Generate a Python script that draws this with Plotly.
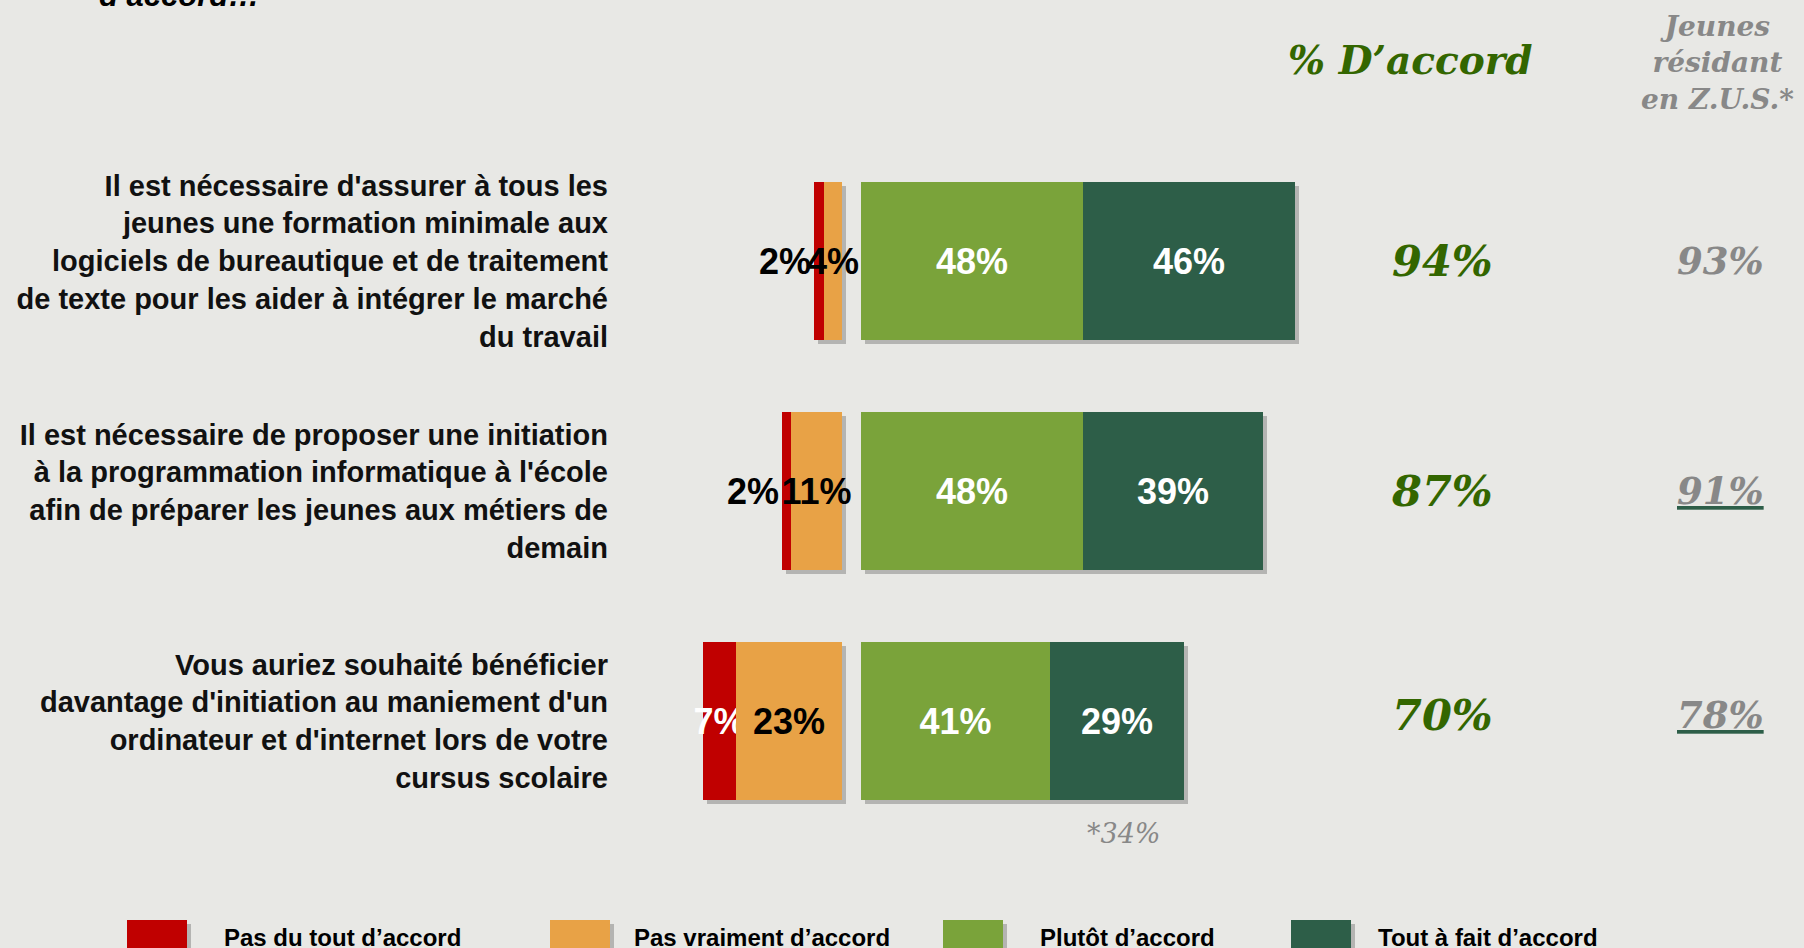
import plotly.graph_objects as go

# --- data ---
questions = [
    "Il est nécessaire d'assurer à tous les<br>jeunes une formation minimale aux<br>logiciels de bureautique et de traitement<br>de texte pour les aider à intégrer le marché<br>du travail",
    "Il est nécessaire de proposer une initiation<br>à la programmation informatique à l'école<br>afin de préparer les jeunes aux métiers de<br>demain",
    "Vous auriez souhaité bénéficier<br>davantage d'initiation au maniement d'un<br>ordinateur et d'internet lors de votre<br>cursus scolaire",
]
pas_du_tout = [2, 2, 7]
pas_vraiment = [4, 11, 23]
plutot = [48, 48, 41]
tout_a_fait = [46, 39, 29]
total_accord = [94, 87, 70]
zus_accord = [93, 91, 78]
zus_underline = [False, True, True]
zus_note = 34  # "*34%" under the last question

legend_labels = ["Pas du tout d’accord", "Pas vraiment d’accord", "Plutôt d’accord", "Tout à fait d’accord"]

# --- styles / layout constants (pixels) ---
W, H = 1804, 948
SH = 4                     # shadow offset
PX_PER_PCT = 4.625
X_ZERO = 851.3             # pixel of value 0 (middle of the gap)
GAP = 2                    # half gap between disagree / agree, in %
ROW0 = 261                 # pixel of first row centre
ROW_STEP = 230
BAR_W = 158 / ROW_STEP

RED, ORANGE, LGREEN, DGREEN = "#c00000", "#e8a246", "#7aa33a", "#2d5e48"
SHADOW = "rgba(60,60,60,0.30)"
BG = "#e8e8e5"
SANS = "Liberation Sans, Arial, sans-serif"
SERIF = "Georgia, DejaVu Serif, serif"

rows = list(range(len(questions)))

x_range = [-X_ZERO / PX_PER_PCT, (W - SH - X_ZERO) / PX_PER_PCT]
y_top = -ROW0 / ROW_STEP
y_range = [y_top + (H - SH) / ROW_STEP, y_top]

# segments: (values, bases, colour, text positions, inside colour, outside colour, sign)
neg_orange_base = [-GAP] * len(rows)
neg_red_base = [-GAP - v for v in pas_vraiment]
pos_light_base = [GAP] * len(rows)
pos_dark_base = [GAP + v for v in plutot]

segments = [
    (pas_du_tout, neg_red_base, RED, ["outside", "outside", "inside"], "white", "black", -1),
    (pas_vraiment, neg_orange_base, ORANGE, ["inside"] * 3, "black", "black", -1),
    (plutot, pos_light_base, LGREEN, ["inside"] * 3, "white", "white", 1),
    (tout_a_fait, pos_dark_base, DGREEN, ["inside"] * 3, "white", "white", 1),
]

fig = go.Figure()

# shadows first (lower subplot, shifted a few pixels right/down)
for vals, base, col, tpos, inc, outc, sign in segments:
    fig.add_trace(go.Bar(
        y=rows, x=[sign * v for v in vals], base=base, orientation="h",
        width=BAR_W, marker=dict(color=SHADOW, line=dict(width=0)),
        xaxis="x", yaxis="y", hoverinfo="skip", showlegend=False,
    ))

for (vals, base, col, tpos, inc, outc, sign), name in zip(segments, legend_labels):
    fig.add_trace(go.Bar(
        y=rows, x=[sign * v for v in vals], base=base, orientation="h",
        width=BAR_W, marker=dict(color=col, line=dict(width=0)),
        text=[f"{v}%" for v in vals], textposition=tpos, textangle=0,
        constraintext="none", insidetextanchor="middle",
        insidetextfont=dict(family=SANS, size=36, color=inc, weight="bold"),
        outsidetextfont=dict(family=SANS, size=36, color=outc, weight="bold"),
        cliponaxis=False,
        xaxis="x2", yaxis="y2", name=name, showlegend=False,
    ))

annotations = []

# % D'accord column
for i, v in enumerate(total_accord):
    annotations.append(dict(
        x=1442 / W, xref="paper", y=i, yref="y2", yshift=(6 if i == 2 else 0),
        text=f"{v}%", showarrow=False, xanchor="center", yanchor="middle",
        font=dict(family=SERIF, size=43, color="#336600", weight="bold", style="italic"),
    ))

# ZUS column
for i, (v, u) in enumerate(zip(zus_accord, zus_underline)):
    txt = f"{v}%"
    if u:
        txt = (f"<span style='fill:{DGREEN};color:{DGREEN};text-decoration:underline'>"
               f"<span style='color:#888888'>{txt}</span></span>")
    annotations.append(dict(
        x=1720 / W, xref="paper", y=i, yref="y2", yshift=(6 if i == 2 else 0),
        text=txt, showarrow=False, xanchor="center", yanchor="middle",
        font=dict(family=SERIF, size=37, color="#888888", weight="bold", style="italic"),
    ))

annotations += [
    dict(x=1410 / W, y=1 - 60 / H, xref="paper", yref="paper", text="% D’accord",
         showarrow=False, xanchor="center", yanchor="middle",
         font=dict(family=SERIF, size=39, color="#336600", weight="bold", style="italic")),
    dict(x=1717 / W, y=1 - 8 / H, xref="paper", yref="paper", text="Jeunes<br>résidant<br>en Z.U.S.*",
         showarrow=False, xanchor="center", yanchor="top",
         font=dict(family=SERIF, size=28, color="#888888", weight="bold", style="italic")),
    dict(x=1124 / W, y=1 - 833 / H, xref="paper", yref="paper", text=f"*{zus_note}%",
         showarrow=False, xanchor="center", yanchor="middle",
         font=dict(family=SERIF, size=27, color="#888888", style="italic")),
    # cut-off title fragment at the very top
    dict(x=97 / W, y=1, xref="paper", yref="paper", yshift=-15, text="d’accord…",
         showarrow=False, xanchor="left", yanchor="bottom",
         font=dict(family=SANS, size=31, color="black", weight="bold", style="italic")),
]

# legend (big squares with shadow, bottom edge cut)
shapes = []
sq_left = [127, 550, 943, 1291]
txt_left = [222, 632, 1038, 1376]
for lab, col, sx, tx in zip(legend_labels, [RED, ORANGE, LGREEN, DGREEN], sq_left, txt_left):
    shapes.append(dict(type="rect", xref="paper", yref="paper", layer="below",
                       x0=(sx + SH) / W, x1=(sx + 60 + SH) / W, y0=-0.1, y1=1 - (920 + SH) / H,
                       fillcolor=SHADOW, line=dict(width=0)))
    shapes.append(dict(type="rect", xref="paper", yref="paper", layer="below",
                       x0=sx / W, x1=(sx + 60) / W, y0=-0.1, y1=1 - 920 / H,
                       fillcolor=col, line=dict(width=0)))
    annotations.append(dict(x=tx / W, y=1 - 937 / H, xref="paper", yref="paper", text=lab,
                            showarrow=False, xanchor="left", yanchor="middle",
                            font=dict(family=SANS, size=24, color="black", weight="bold")))

fig.update_layout(
    width=W, height=H,
    margin=dict(l=0, r=0, t=0, b=0),
    paper_bgcolor=BG, plot_bgcolor="rgba(0,0,0,0)",
    barmode="overlay", bargap=0,
    showlegend=False,
    xaxis=dict(domain=[SH / W, 1], range=x_range, visible=False, fixedrange=True),
    yaxis=dict(domain=[0, 1 - SH / H], range=y_range, visible=False, fixedrange=True),
    xaxis2=dict(domain=[0, 1 - SH / W], range=x_range, visible=False, anchor="y2", fixedrange=True),
    yaxis2=dict(domain=[SH / H, 1], range=y_range, anchor="free", position=608 / W,
                tickvals=rows, ticktext=questions, ticks="", showgrid=False,
                zeroline=False, showline=False, fixedrange=True,
                tickfont=dict(family=SANS, size=29, color="#111111", weight="bold")),
    annotations=annotations,
    shapes=shapes,
)

fig.write_html("out.html", config={"displayModeBar": False},
               post_script="document.body.style.margin='0';document.body.style.overflow='hidden';")
